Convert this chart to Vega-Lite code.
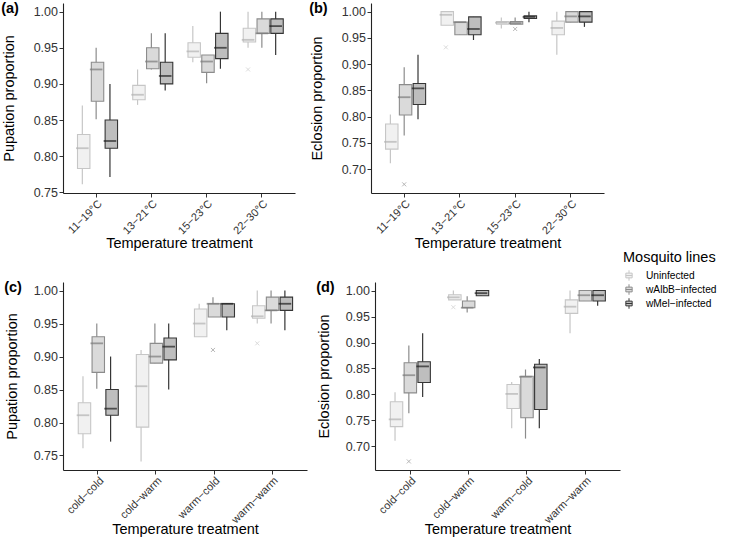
{
  "$schema": "https://vega.github.io/schema/vega-lite/v6.json",
  "padding": {"left": 1, "top": 0, "right": 5, "bottom": 5},
  "datasets": {
    "boxes": [
      {"panel": "a", "treat": "11−19°C", "line": "Uninfected", "lo": 0.761, "q1": 0.783, "med": 0.811, "q3": 0.830, "hi": 0.870},
      {"panel": "a", "treat": "11−19°C", "line": "wAlbB−infected", "lo": 0.851, "q1": 0.876, "med": 0.920, "q3": 0.930, "hi": 0.950},
      {"panel": "a", "treat": "11−19°C", "line": "wMel−infected", "lo": 0.771, "q1": 0.811, "med": 0.821, "q3": 0.850, "hi": 0.900},
      {"panel": "a", "treat": "13−21°C", "line": "Uninfected", "lo": 0.871, "q1": 0.878, "med": 0.885, "q3": 0.898, "hi": 0.920},
      {"panel": "a", "treat": "13−21°C", "line": "wAlbB−infected", "lo": 0.920, "q1": 0.921, "med": 0.931, "q3": 0.950, "hi": 0.970},
      {"panel": "a", "treat": "13−21°C", "line": "wMel−infected", "lo": 0.891, "q1": 0.900, "med": 0.911, "q3": 0.930, "hi": 0.970},
      {"panel": "a", "treat": "15−23°C", "line": "Uninfected", "lo": 0.930, "q1": 0.937, "med": 0.945, "q3": 0.957, "hi": 0.980},
      {"panel": "a", "treat": "15−23°C", "line": "wAlbB−infected", "lo": 0.901, "q1": 0.916, "med": 0.931, "q3": 0.940, "hi": 0.940},
      {"panel": "a", "treat": "15−23°C", "line": "wMel−infected", "lo": 0.921, "q1": 0.935, "med": 0.950, "q3": 0.970, "hi": 1.000},
      {"panel": "a", "treat": "22−30°C", "line": "Uninfected", "lo": 0.950, "q1": 0.958, "med": 0.961, "q3": 0.977, "hi": 1.000},
      {"panel": "a", "treat": "22−30°C", "line": "wAlbB−infected", "lo": 0.950, "q1": 0.970, "med": 0.970, "q3": 0.990, "hi": 1.000},
      {"panel": "a", "treat": "22−30°C", "line": "wMel−infected", "lo": 0.940, "q1": 0.970, "med": 0.980, "q3": 0.990, "hi": 1.000},

      {"panel": "b", "treat": "11−19°C", "line": "Uninfected", "lo": 0.711, "q1": 0.738, "med": 0.752, "q3": 0.786, "hi": 0.804},
      {"panel": "b", "treat": "11−19°C", "line": "wAlbB−infected", "lo": 0.764, "q1": 0.803, "med": 0.837, "q3": 0.861, "hi": 0.894},
      {"panel": "b", "treat": "11−19°C", "line": "wMel−infected", "lo": 0.795, "q1": 0.823, "med": 0.854, "q3": 0.863, "hi": 0.918},
      {"panel": "b", "treat": "13−21°C", "line": "Uninfected", "lo": 0.974, "q1": 0.974, "med": 0.994, "q3": 1.000, "hi": 1.000},
      {"panel": "b", "treat": "13−21°C", "line": "wAlbB−infected", "lo": 0.956, "q1": 0.956, "med": 0.980, "q3": 0.980, "hi": 0.980},
      {"panel": "b", "treat": "13−21°C", "line": "wMel−infected", "lo": 0.946, "q1": 0.956, "med": 0.967, "q3": 0.990, "hi": 0.990},
      {"panel": "b", "treat": "15−23°C", "line": "Uninfected", "lo": 0.968, "q1": 0.976, "med": 0.979, "q3": 0.981, "hi": 0.989},
      {"panel": "b", "treat": "15−23°C", "line": "wAlbB−infected", "lo": 0.976, "q1": 0.976, "med": 0.978, "q3": 0.981, "hi": 0.989},
      {"panel": "b", "treat": "15−23°C", "line": "wMel−infected", "lo": 0.980, "q1": 0.987, "med": 0.990, "q3": 0.992, "hi": 1.000},
      {"panel": "b", "treat": "22−30°C", "line": "Uninfected", "lo": 0.918, "q1": 0.956, "med": 0.969, "q3": 0.982, "hi": 1.000},
      {"panel": "b", "treat": "22−30°C", "line": "wAlbB−infected", "lo": 0.980, "q1": 0.980, "med": 0.991, "q3": 1.000, "hi": 1.000},
      {"panel": "b", "treat": "22−30°C", "line": "wMel−infected", "lo": 0.971, "q1": 0.980, "med": 0.991, "q3": 1.000, "hi": 1.000},

      {"panel": "c", "treat": "cold−cold", "line": "Uninfected", "lo": 0.761, "q1": 0.783, "med": 0.811, "q3": 0.830, "hi": 0.870},
      {"panel": "c", "treat": "cold−cold", "line": "wAlbB−infected", "lo": 0.851, "q1": 0.876, "med": 0.920, "q3": 0.930, "hi": 0.950},
      {"panel": "c", "treat": "cold−cold", "line": "wMel−infected", "lo": 0.771, "q1": 0.811, "med": 0.821, "q3": 0.850, "hi": 0.900},
      {"panel": "c", "treat": "cold−warm", "line": "Uninfected", "lo": 0.741, "q1": 0.793, "med": 0.855, "q3": 0.903, "hi": 0.910},
      {"panel": "c", "treat": "cold−warm", "line": "wAlbB−infected", "lo": 0.890, "q1": 0.890, "med": 0.900, "q3": 0.920, "hi": 0.950},
      {"panel": "c", "treat": "cold−warm", "line": "wMel−infected", "lo": 0.850, "q1": 0.895, "med": 0.915, "q3": 0.928, "hi": 0.950},
      {"panel": "c", "treat": "warm−cold", "line": "Uninfected", "lo": 0.930, "q1": 0.930, "med": 0.950, "q3": 0.972, "hi": 0.980},
      {"panel": "c", "treat": "warm−cold", "line": "wAlbB−infected", "lo": 0.960, "q1": 0.960, "med": 0.980, "q3": 0.980, "hi": 0.990},
      {"panel": "c", "treat": "warm−cold", "line": "wMel−infected", "lo": 0.940, "q1": 0.960, "med": 0.980, "q3": 0.980, "hi": 0.980},
      {"panel": "c", "treat": "warm−warm", "line": "Uninfected", "lo": 0.950, "q1": 0.958, "med": 0.961, "q3": 0.977, "hi": 1.000},
      {"panel": "c", "treat": "warm−warm", "line": "wAlbB−infected", "lo": 0.950, "q1": 0.970, "med": 0.970, "q3": 0.990, "hi": 1.000},
      {"panel": "c", "treat": "warm−warm", "line": "wMel−infected", "lo": 0.940, "q1": 0.970, "med": 0.980, "q3": 0.990, "hi": 1.000},

      {"panel": "d", "treat": "cold−cold", "line": "Uninfected", "lo": 0.711, "q1": 0.738, "med": 0.752, "q3": 0.786, "hi": 0.804},
      {"panel": "d", "treat": "cold−cold", "line": "wAlbB−infected", "lo": 0.764, "q1": 0.803, "med": 0.837, "q3": 0.861, "hi": 0.894},
      {"panel": "d", "treat": "cold−cold", "line": "wMel−infected", "lo": 0.795, "q1": 0.823, "med": 0.854, "q3": 0.863, "hi": 0.918},
      {"panel": "d", "treat": "cold−warm", "line": "Uninfected", "lo": 0.982, "q1": 0.982, "med": 0.987, "q3": 0.992, "hi": 1.000},
      {"panel": "d", "treat": "cold−warm", "line": "wAlbB−infected", "lo": 0.958, "q1": 0.967, "med": 0.967, "q3": 0.980, "hi": 0.989},
      {"panel": "d", "treat": "cold−warm", "line": "wMel−infected", "lo": 0.990, "q1": 0.990, "med": 0.995, "q3": 1.000, "hi": 1.000},
      {"panel": "d", "treat": "warm−cold", "line": "Uninfected", "lo": 0.735, "q1": 0.773, "med": 0.801, "q3": 0.819, "hi": 0.824},
      {"panel": "d", "treat": "warm−cold", "line": "wAlbB−infected", "lo": 0.715, "q1": 0.755, "med": 0.834, "q3": 0.835, "hi": 0.848},
      {"panel": "d", "treat": "warm−cold", "line": "wMel−infected", "lo": 0.735, "q1": 0.771, "med": 0.852, "q3": 0.858, "hi": 0.868},
      {"panel": "d", "treat": "warm−warm", "line": "Uninfected", "lo": 0.918, "q1": 0.956, "med": 0.969, "q3": 0.982, "hi": 1.000},
      {"panel": "d", "treat": "warm−warm", "line": "wAlbB−infected", "lo": 0.980, "q1": 0.980, "med": 0.991, "q3": 1.000, "hi": 1.000},
      {"panel": "d", "treat": "warm−warm", "line": "wMel−infected", "lo": 0.971, "q1": 0.980, "med": 0.991, "q3": 1.000, "hi": 1.000}
    ],
    "outliers": [
      {"panel": "a", "treat": "22−30°C", "line": "Uninfected", "value": 0.920},
      {"panel": "b", "treat": "11−19°C", "line": "wAlbB−infected", "value": 0.671},
      {"panel": "b", "treat": "13−21°C", "line": "Uninfected", "value": 0.932},
      {"panel": "b", "treat": "15−23°C", "line": "wAlbB−infected", "value": 0.967},
      {"panel": "c", "treat": "warm−cold", "line": "wAlbB−infected", "value": 0.910},
      {"panel": "c", "treat": "warm−warm", "line": "Uninfected", "value": 0.920},
      {"panel": "d", "treat": "cold−cold", "line": "wAlbB−infected", "value": 0.671},
      {"panel": "d", "treat": "cold−warm", "line": "Uninfected", "value": 0.968}
    ]
  },
  "vconcat": [
    {
      "hconcat": [
        {
          "width": 232, "height": 190,
          "title": {"text": "(a)", "anchor": "start", "frame": "bounds", "fontSize": 14.5, "fontWeight": "bold", "offset": -13},
          "encoding": {
            "x": {"field": "treat", "type": "nominal", "sort": ["11−19°C", "13−21°C", "15−23°C", "22−30°C"], "scale": {"paddingInner": 0.25, "paddingOuter": 0.225}, "axis": {"titlePadding": 1}, "title": "Temperature treatment"},
            "xOffset": {"field": "line", "type": "nominal", "sort": ["Uninfected", "wAlbB−infected", "wMel−infected"], "scale": {"paddingInner": 0, "paddingOuter": 0}}
          },
          "layer": [
            {"data": {"name": "boxes"}, "transform": [{"filter": "datum.panel === 'a'"}], "mark": {"type": "rule", "strokeWidth": 1.2},
             "encoding": {"y": {"field": "lo", "type": "quantitative", "scale": {"domain": [0.749, 1.012], "nice": false, "zero": false}, "axis": {"values": [0.75, 0.8, 0.85, 0.9, 0.95, 1.0], "format": ".2f", "titlePadding": 17, "labelOverlap": false}, "title": "Pupation proportion"}, "y2": {"field": "hi"},
               "stroke": {"field": "line", "type": "nominal", "scale": {"domain": ["Uninfected", "wAlbB−infected", "wMel−infected"], "range": ["#c6c6c6", "#8c8c8c", "#353535"]}, "legend": {"title": "Mosquito lines", "orient": "none", "legendX": 560, "legendY": 248}}}},
            {"data": {"name": "boxes"}, "transform": [{"filter": "datum.panel === 'a'"}], "mark": {"type": "bar", "strokeWidth": 1.1, "width": {"band": 0.9}},
             "encoding": {"y": {"field": "q1", "type": "quantitative", "axis": {"values": [0.75, 0.8, 0.85, 0.9, 0.95, 1.0], "format": ".2f", "titlePadding": 17, "labelOverlap": false}, "title": "Pupation proportion"}, "y2": {"field": "q3"},
               "fill": {"field": "line", "type": "nominal", "scale": {"domain": ["Uninfected", "wAlbB−infected", "wMel−infected"], "range": ["#f1f1f1", "#dadada", "#bebebe"]}, "legend": {"title": "Mosquito lines", "orient": "none", "legendX": 560, "legendY": 248}},
               "stroke": {"field": "line", "type": "nominal"}}},
            {"data": {"name": "boxes"}, "transform": [{"filter": "datum.panel === 'a'"}], "mark": {"type": "tick", "size": 12.6, "thickness": 1.8, "filled": true},
             "encoding": {"y": {"field": "med", "type": "quantitative", "axis": {"values": [0.75, 0.8, 0.85, 0.9, 0.95, 1.0], "format": ".2f", "titlePadding": 17, "labelOverlap": false}, "title": "Pupation proportion"}, "color": {"field": "line", "type": "nominal", "scale": {"domain": ["Uninfected", "wAlbB−infected", "wMel−infected"], "range": ["#b2b2b2", "#7a7a7a", "#1e1e1e"]}, "legend": null}}},
            {"data": {"name": "outliers"}, "transform": [{"filter": "datum.panel === 'a'"}], "mark": {"type": "point", "shape": "M-1,-1L1,1M1,-1L-1,1", "size": 16, "filled": false, "strokeWidth": 0.9},
             "encoding": {"y": {"field": "value", "type": "quantitative", "axis": {"values": [0.75, 0.8, 0.85, 0.9, 0.95, 1.0], "format": ".2f", "titlePadding": 17, "labelOverlap": false}, "title": "Pupation proportion"}, "stroke": {"field": "line", "type": "nominal"}}}
          ]
        },
        {
          "width": 233, "height": 190,
          "title": {"text": "(b)", "anchor": "start", "frame": "bounds", "fontSize": 14.5, "fontWeight": "bold", "offset": -13},
          "encoding": {
            "x": {"field": "treat", "type": "nominal", "sort": ["11−19°C", "13−21°C", "15−23°C", "22−30°C"], "scale": {"paddingInner": 0.25, "paddingOuter": 0.225}, "axis": {"titlePadding": 1}, "title": "Temperature treatment"},
            "xOffset": {"field": "line", "type": "nominal", "sort": ["Uninfected", "wAlbB−infected", "wMel−infected"], "scale": {"paddingInner": 0, "paddingOuter": 0}}
          },
          "layer": [
            {"data": {"name": "boxes"}, "transform": [{"filter": "datum.panel === 'b'"}], "mark": {"type": "rule", "strokeWidth": 1.2},
             "encoding": {"y": {"field": "lo", "type": "quantitative", "scale": {"domain": [0.6545, 1.0165], "nice": false, "zero": false}, "axis": {"values": [0.7, 0.75, 0.8, 0.85, 0.9, 0.95, 1.0], "format": ".2f", "titlePadding": 17, "labelOverlap": false}, "title": "Eclosion proportion"}, "y2": {"field": "hi"}, "stroke": {"field": "line", "type": "nominal"}}},
            {"data": {"name": "boxes"}, "transform": [{"filter": "datum.panel === 'b'"}], "mark": {"type": "bar", "strokeWidth": 1.1, "width": {"band": 0.9}},
             "encoding": {"y": {"field": "q1", "type": "quantitative", "axis": {"values": [0.7, 0.75, 0.8, 0.85, 0.9, 0.95, 1.0], "format": ".2f", "titlePadding": 17, "labelOverlap": false}, "title": "Eclosion proportion"}, "y2": {"field": "q3"}, "fill": {"field": "line", "type": "nominal"}, "stroke": {"field": "line", "type": "nominal"}}},
            {"data": {"name": "boxes"}, "transform": [{"filter": "datum.panel === 'b'"}], "mark": {"type": "tick", "size": 12.6, "thickness": 1.8, "filled": true},
             "encoding": {"y": {"field": "med", "type": "quantitative", "axis": {"values": [0.7, 0.75, 0.8, 0.85, 0.9, 0.95, 1.0], "format": ".2f", "titlePadding": 17, "labelOverlap": false}, "title": "Eclosion proportion"}, "color": {"field": "line", "type": "nominal", "legend": null}}},
            {"data": {"name": "outliers"}, "transform": [{"filter": "datum.panel === 'b'"}], "mark": {"type": "point", "shape": "M-1,-1L1,1M1,-1L-1,1", "size": 16, "filled": false, "strokeWidth": 0.9},
             "encoding": {"y": {"field": "value", "type": "quantitative", "axis": {"values": [0.7, 0.75, 0.8, 0.85, 0.9, 0.95, 1.0], "format": ".2f", "titlePadding": 17, "labelOverlap": false}, "title": "Eclosion proportion"}, "stroke": {"field": "line", "type": "nominal"}}}
          ]
        }
      ],
      "spacing": 14
    },
    {
      "hconcat": [
        {
          "width": 244, "height": 188,
          "title": {"text": "(c)", "anchor": "start", "frame": "bounds", "fontSize": 14.5, "fontWeight": "bold", "offset": -13},
          "encoding": {
            "x": {"field": "treat", "type": "nominal", "sort": ["cold−cold", "cold−warm", "warm−cold", "warm−warm"], "scale": {"paddingInner": 0.25, "paddingOuter": 0.225}, "axis": {"titlePadding": -2}, "title": "Temperature treatment"},
            "xOffset": {"field": "line", "type": "nominal", "sort": ["Uninfected", "wAlbB−infected", "wMel−infected"], "scale": {"paddingInner": 0, "paddingOuter": 0}}
          },
          "layer": [
            {"data": {"name": "boxes"}, "transform": [{"filter": "datum.panel === 'c'"}], "mark": {"type": "rule", "strokeWidth": 1.2},
             "encoding": {"y": {"field": "lo", "type": "quantitative", "scale": {"domain": [0.728, 1.013], "nice": false, "zero": false}, "axis": {"values": [0.75, 0.8, 0.85, 0.9, 0.95, 1.0], "format": ".2f", "titlePadding": 14, "labelOverlap": false}, "title": "Pupation proportion"}, "y2": {"field": "hi"}, "stroke": {"field": "line", "type": "nominal"}}},
            {"data": {"name": "boxes"}, "transform": [{"filter": "datum.panel === 'c'"}], "mark": {"type": "bar", "strokeWidth": 1.1, "width": {"band": 0.9}},
             "encoding": {"y": {"field": "q1", "type": "quantitative", "axis": {"values": [0.75, 0.8, 0.85, 0.9, 0.95, 1.0], "format": ".2f", "titlePadding": 14, "labelOverlap": false}, "title": "Pupation proportion"}, "y2": {"field": "q3"}, "fill": {"field": "line", "type": "nominal"}, "stroke": {"field": "line", "type": "nominal"}}},
            {"data": {"name": "boxes"}, "transform": [{"filter": "datum.panel === 'c'"}], "mark": {"type": "tick", "size": 12.6, "thickness": 1.8, "filled": true},
             "encoding": {"y": {"field": "med", "type": "quantitative", "axis": {"values": [0.75, 0.8, 0.85, 0.9, 0.95, 1.0], "format": ".2f", "titlePadding": 14, "labelOverlap": false}, "title": "Pupation proportion"}, "color": {"field": "line", "type": "nominal", "legend": null}}},
            {"data": {"name": "outliers"}, "transform": [{"filter": "datum.panel === 'c'"}], "mark": {"type": "point", "shape": "M-1,-1L1,1M1,-1L-1,1", "size": 16, "filled": false, "strokeWidth": 0.9},
             "encoding": {"y": {"field": "value", "type": "quantitative", "axis": {"values": [0.75, 0.8, 0.85, 0.9, 0.95, 1.0], "format": ".2f", "titlePadding": 14, "labelOverlap": false}, "title": "Pupation proportion"}, "stroke": {"field": "line", "type": "nominal"}}}
          ]
        },
        {
          "width": 245, "height": 188,
          "title": {"text": "(d)", "anchor": "start", "frame": "bounds", "fontSize": 14.5, "fontWeight": "bold", "offset": -13},
          "encoding": {
            "x": {"field": "treat", "type": "nominal", "sort": ["cold−cold", "cold−warm", "warm−cold", "warm−warm"], "scale": {"paddingInner": 0.25, "paddingOuter": 0.225}, "axis": {"titlePadding": -2}, "title": "Temperature treatment"},
            "xOffset": {"field": "line", "type": "nominal", "sort": ["Uninfected", "wAlbB−infected", "wMel−infected"], "scale": {"paddingInner": 0, "paddingOuter": 0}}
          },
          "layer": [
            {"data": {"name": "boxes"}, "transform": [{"filter": "datum.panel === 'd'"}], "mark": {"type": "rule", "strokeWidth": 1.2},
             "encoding": {"y": {"field": "lo", "type": "quantitative", "scale": {"domain": [0.6545, 1.0165], "nice": false, "zero": false}, "axis": {"values": [0.7, 0.75, 0.8, 0.85, 0.9, 0.95, 1.0], "format": ".2f", "titlePadding": 14, "labelOverlap": false}, "title": "Eclosion proportion"}, "y2": {"field": "hi"}, "stroke": {"field": "line", "type": "nominal"}}},
            {"data": {"name": "boxes"}, "transform": [{"filter": "datum.panel === 'd'"}], "mark": {"type": "bar", "strokeWidth": 1.1, "width": {"band": 0.9}},
             "encoding": {"y": {"field": "q1", "type": "quantitative", "axis": {"values": [0.7, 0.75, 0.8, 0.85, 0.9, 0.95, 1.0], "format": ".2f", "titlePadding": 14, "labelOverlap": false}, "title": "Eclosion proportion"}, "y2": {"field": "q3"}, "fill": {"field": "line", "type": "nominal"}, "stroke": {"field": "line", "type": "nominal"}}},
            {"data": {"name": "boxes"}, "transform": [{"filter": "datum.panel === 'd'"}], "mark": {"type": "tick", "size": 12.6, "thickness": 1.8, "filled": true},
             "encoding": {"y": {"field": "med", "type": "quantitative", "axis": {"values": [0.7, 0.75, 0.8, 0.85, 0.9, 0.95, 1.0], "format": ".2f", "titlePadding": 14, "labelOverlap": false}, "title": "Eclosion proportion"}, "color": {"field": "line", "type": "nominal", "legend": null}}},
            {"data": {"name": "outliers"}, "transform": [{"filter": "datum.panel === 'd'"}], "mark": {"type": "point", "shape": "M-1,-1L1,1M1,-1L-1,1", "size": 16, "filled": false, "strokeWidth": 0.9},
             "encoding": {"y": {"field": "value", "type": "quantitative", "axis": {"values": [0.7, 0.75, 0.8, 0.85, 0.9, 0.95, 1.0], "format": ".2f", "titlePadding": 14, "labelOverlap": false}, "title": "Eclosion proportion"}, "stroke": {"field": "line", "type": "nominal"}}}
          ]
        }
      ],
      "spacing": 9
    }
  ],
  "spacing": 28,
  "resolve": {"scale": {"fill": "shared", "stroke": "shared", "color": "shared"}},
  "config": {
    "font": "Liberation Sans",
    "view": {"stroke": null},
    "axis": {"grid": false, "domainColor": "#222222", "domainWidth": 1.1, "tickColor": "#333333", "tickSize": 4, "labelColor": "#333333", "labelFontSize": 12.5, "labelPadding": 1.5, "labelOverlap": false, "titleFontSize": 14.5, "titleFontWeight": "normal", "titleColor": "#000000"},
    "axisX": {"labelAngle": -45, "labelPadding": 0.5, "labelFontSize": 11},
    "legend": {"titleFontSize": 14.5, "titleFontWeight": "normal", "titleColor": "#000000", "labelFontSize": 10.2, "labelColor": "#000000", "labelLimit": 200, "labelOffset": 11, "symbolType": "M0,-1V-0.45M-0.6,-0.45H0.6V0.45H-0.6ZM-0.6,0H0.6M0,0.45V1", "symbolSize": 110, "symbolStrokeWidth": 1, "rowPadding": -3, "titlePadding": 4},
    "title": {"color": "#000000"}
  }
}
